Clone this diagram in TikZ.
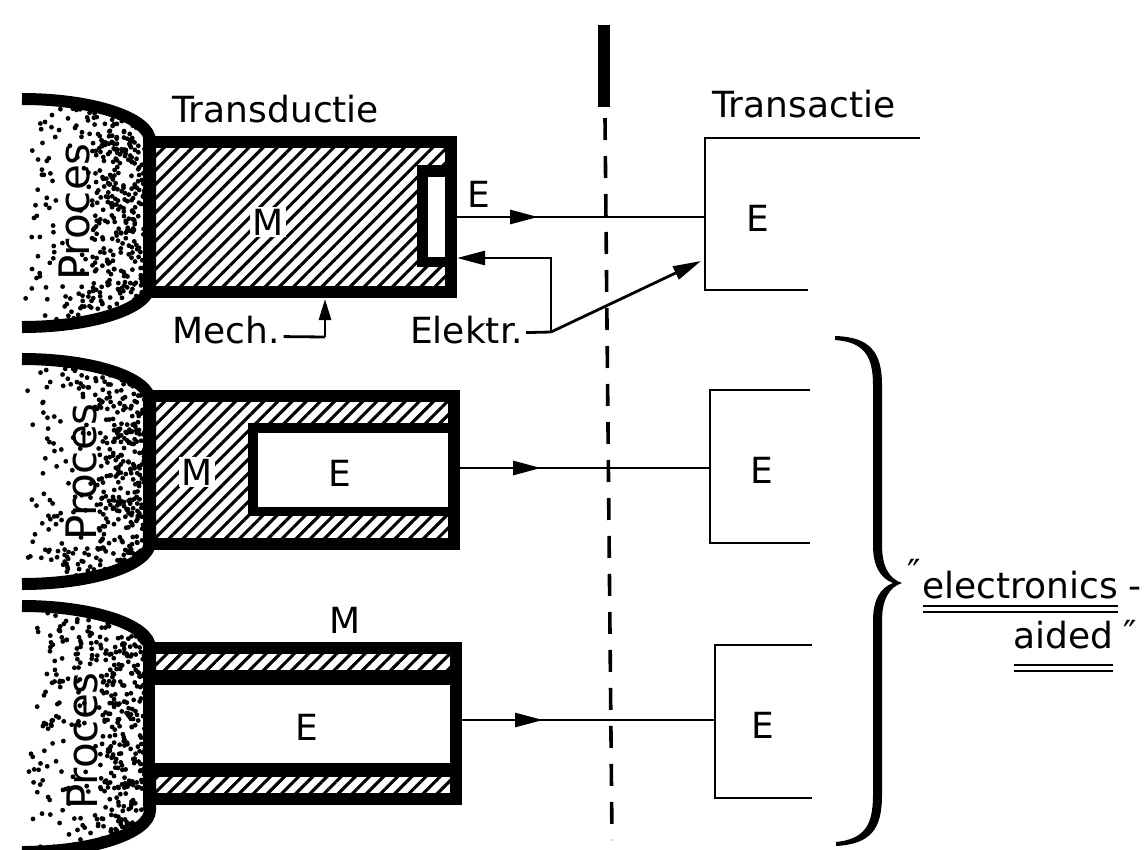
\documentclass[tikz,border=0pt]{standalone}
\usepackage{fontspec}
\setmainfont{DejaVu Sans}
\usetikzlibrary{arrows.meta,patterns.meta,decorations.markings,calc}
\begin{document}
\begin{tikzpicture}[x=1pt,y=-1pt,
  heavy/.style={line width=12pt},
  conn/.style={line width=2.8pt},
  lbl/.style={font=\fontsize{36}{40}\selectfont, inner sep=0pt},
  proclbl/.style={font=\fontsize{42}{46}\selectfont, inner sep=0pt},
  hatch/.style={pattern={Lines[angle=45,distance=10pt,line width=3.1pt]}},
  tipbig/.style={-{Triangle[length=28pt,width=14pt]}},
  tipsmall/.style={-{Triangle[length=21pt,width=12pt]}},
  midarrow/.style={postaction={decorate},decoration={markings,mark=at position 81pt with {\arrow{Triangle[length=28pt,width=14pt]}}}},
  uline/.style={line width=2.4pt},
  dashline/.style={line width=3.6pt, dash pattern=on 22pt off 16pt}
]
\useasboundingbox[fill=white] (0,0) rectangle (1148,849);
\pgfmathsetseed{11}

% process shapes (stippled)
\foreach \T/\B/\px/\py in {99/327/74/212, 359/584/81/472, 606/852/82/741} {
  \begin{scope}
    \clip (22,\T) .. controls (93,\T) and (150,\T+19) .. (150,\T+42) -- (150,\B-42) .. controls (150,\B-19) and (93,\B) .. (22,\B) -- cycle;
    \foreach \i in {1,...,580} {
      \pgfmathsetmacro\dx{22+128*sqrt(rnd)}
      \pgfmathsetmacro\dy{\T+(\B-\T)*rnd}
      \pgfmathsetmacro\keep{((abs(\dx-\px)<18) && (abs(\dy-\py)<74)) ? (rnd<0.2) : 1}
      \ifdim\keep pt>0.5pt \fill (\dx,\dy) circle (2.4pt); \fi
    }
  \end{scope}
  \draw[heavy] (22,\T) .. controls (93,\T) and (150,\T+19) .. (150,\T+42) -- (150,\B-42) .. controls (150,\B-19) and (93,\B) .. (22,\B);
  \node[proclbl, rotate=90] (proc-\T) at (\px,\py) {Proces};
}

% ---------- row 1 ----------
\fill[hatch] (149,142) rectangle (451,292);
\fill (417,165) rectangle (451,267);
\fill[white] (428,177) rectangle (446,257);
\draw[heavy] (149,142) rectangle (451,292);
\node[lbl, fill=white, inner sep=2pt] (m1) at (268,222) {M};
\node[lbl] (e1lab) at (479,194) {E};
\node[lbl, anchor=base west] (transd) at (172,122) {Transductie};

% ---------- row 2 ----------
\fill[hatch] (149,396) rectangle (454,544);
\fill (248,423) rectangle (454,516);
\fill[white] (258,433) rectangle (448,507);
\draw[heavy] (149,396) rectangle (454,544);
\node[lbl, fill=white, inner sep=2pt] (m2) at (197,472) {M};
\node[lbl] (e2) at (340,473) {E};

% ---------- row 3 ----------
\fill[hatch] (149,648) rectangle (456,799);
\fill (149,670) rectangle (456,777);
\fill[white] (155,685) rectangle (450,763);
\draw[heavy] (149,648) rectangle (456,799);
\node[lbl] (m3) at (345,620) {M};
\node[lbl] (e3) at (307,727) {E};

% ---------- separator ----------
\coordinate (septop) at (604,25);
\coordinate (sepmid) at (604,107);
\coordinate (dtop) at (605,118);
\coordinate (dbot) at (612,840);
\draw[line width=12pt] (septop) -- (sepmid);
\draw[dashline] (dtop) -- (dbot);

% ---------- transactie boxes ----------
\node[lbl, anchor=base west] (transa) at (712,117) {Transactie};
\draw[conn] (920,138) -- (705,138) -- (705,290) -- (808,290);
\node[lbl] (te1) at (758,218) {E};
\draw[conn] (810,390) -- (710,390) -- (710,543) -- (810,543);
\node[lbl] (te2) at (762,470) {E};
\draw[conn] (812,645) -- (715,645) -- (715,798) -- (812,798);
\node[lbl] (te3) at (763,725) {E};

% ---------- connectors ----------
\coordinate (b1) at (457,217);  \coordinate (t1) at (705,217);
\coordinate (b2) at (460,468);  \coordinate (t2) at (710,468);
\coordinate (b3) at (462,720);  \coordinate (t3) at (715,720);
\draw[conn, midarrow] (b1) -- (t1);
\draw[conn, midarrow] (b2) -- (t2);
\draw[conn, midarrow] (b3) -- (t3);

% Mech. / Elektr.
\node[lbl, anchor=base west] (mech) at (172,343) {Mech.};
\node[lbl, anchor=base west] (elk) at (410,343) {Elektr.};
\coordinate (mj) at (325,337);
\coordinate (b1b) at (325,299);
\draw[conn] ($(mech.east)+(4,7)$) -- (mj);
\draw[conn, tipsmall] (mj) -- (b1b);
\coordinate (ej) at (551,332);
\coordinate (b1r) at (457,258);
\coordinate (t1d) at (701,261);
\draw[conn] ($(elk.east)+(3,3)$) -- (ej);
\draw[conn, tipbig] (ej) |- (b1r);
\draw[conn, tipbig] (ej) -- (t1d);

% ---------- brace ----------
\fill (835,336) .. controls (870,337) and (882,352) .. (882,385) -- (882,545)
  .. controls (882,568) and (890,579) .. (902,583)
  .. controls (890,587) and (882,598) .. (882,621) -- (882,795)
  .. controls (882,830) and (870,844) .. (836,846)
  -- (836,842) .. controls (864,839) and (873,826) .. (873,795) -- (873,621)
  .. controls (873,600) and (880,588) .. (893,583)
  .. controls (880,578) and (873,566) .. (873,545) -- (873,385)
  .. controls (873,356) and (864,342) .. (835,340) -- cycle;

% ---------- "electronics-aided" ----------
\node[lbl] (q1) at (914,572) {″};
\node[lbl, anchor=base west] (el) at (922,598) {electronics};
\node[lbl, anchor=base west] (dash) at (1128,598) {-};
\node[lbl, anchor=base west] (ai) at (1013,648) {aided};
\node[lbl] (q2) at (1130,633) {″};
\draw[uline] ($(el.base west)+(1,8)$) -- ($(el.base east)+(0,8)$);
\draw[uline] ($(el.base west)+(1,14)$) -- ($(el.base east)+(0,14)$);
\draw[uline] ($(ai.base west)+(1,17)$) -- ($(ai.base east)+(0,17)$);
\draw[uline] ($(ai.base west)+(1,23)$) -- ($(ai.base east)+(0,23)$);
\end{tikzpicture}
\end{document}
